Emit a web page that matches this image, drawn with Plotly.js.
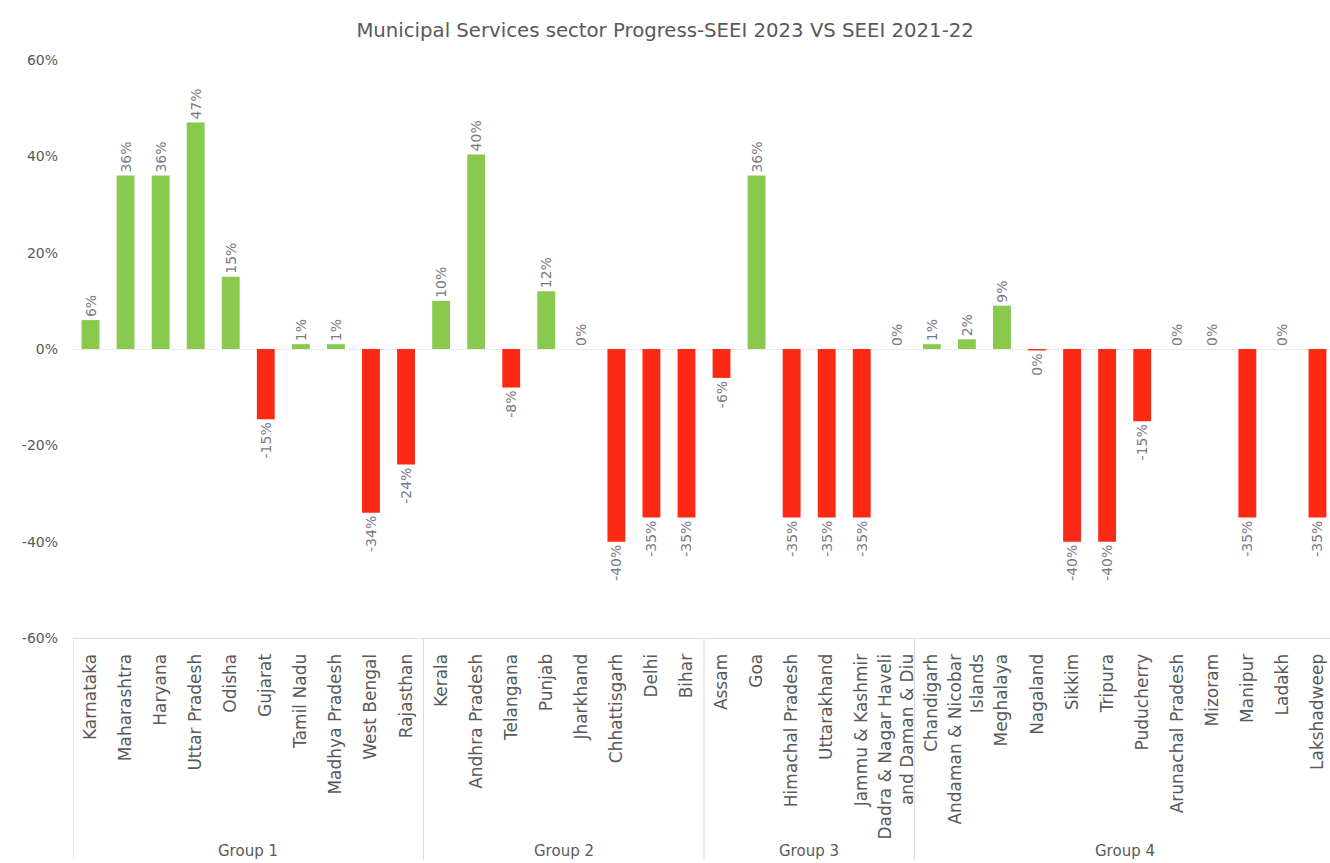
<!DOCTYPE html>
<html>
<head>
<meta charset="utf-8">
<script src="https://cdn.plot.ly/plotly-3.0.1.min.js"></script>
<style>
html, body { margin: 0; padding: 0; overflow: hidden; background: #fff; }
#chart { width: 1345px; height: 863px; }
</style>
</head>
<body>
<div id="chart"></div>
<script>
// ---- data ----
const groupNames = ['Group 1', 'Group 2', 'Group 3', 'Group 4'];
const groupSizes = [10, 8, 6, 12];
const states = [
  'Karnataka', 'Maharashtra', 'Haryana', 'Uttar Pradesh', 'Odisha', 'Gujarat', 'Tamil Nadu', 'Madhya Pradesh', 'West Bengal', 'Rajasthan',
  'Kerala', 'Andhra Pradesh', 'Telangana', 'Punjab', 'Jharkhand', 'Chhattisgarh', 'Delhi', 'Bihar',
  'Assam', 'Goa', 'Himachal Pradesh', 'Uttarakhand', 'Jammu & Kashmir', 'Dadra & Nagar Haveli<br>and Daman & Diu',
  'Chandigarh', 'Andaman & Nicobar<br>Islands', 'Meghalaya', 'Nagaland', 'Sikkim', 'Tripura', 'Puducherry', 'Arunachal Pradesh', 'Mizoram', 'Manipur', 'Ladakh', 'Lakshadweep'
];
const progress = [
  6, 36, 36, 47, 15, -14.6, 1, 1, -34, -24,
  10, 40.4, -8, 12, 0, -40, -35, -35,
  -6, 36, -35, -35, -35, 0,
  1, 2, 9, -0.3, -40, -40, -15, 0, 0, -35, 0, -35
];
const yTicks = [-60, -40, -20, 0, 20, 40, 60];

// ---- styles ----
const GREEN = '#88c94e';
const RED = '#fc2a14';
const FONT = 'DejaVu Sans, Liberation Sans, sans-serif';
const GREY = '#595959';

const idx = states.map((_, i) => i);
const labels = progress.map(v => Math.round(v) + '%');
const colors = progress.map(v => v >= 0 ? GREEN : RED);

const trace = {
  type: 'bar',
  x: idx,
  y: progress,
  marker: { color: colors },
  text: labels,
  textposition: 'outside',
  textangle: -90,
  constraintext: 'none',
  cliponaxis: false,
  textfont: { family: FONT, size: 14, color: '#7a7a86' },
  hoverinfo: 'skip'
};

// group dividers and labels
const shapes = [];
const annotations = [];
let start = 0;
shapes.push({ type: 'line', xref: 'x', yref: 'paper', x0: -0.5, x1: -0.5, y0: 0, y1: -0.385,
  line: { color: '#d9d9d9', width: 1 } });
groupSizes.forEach((n, g) => {
  const end = start + n;
  shapes.push({ type: 'line', xref: 'x', yref: 'paper', x0: end - 0.5, x1: end - 0.5, y0: 0, y1: -0.385,
    line: { color: '#d9d9d9', width: 1 } });
  annotations.push({ xref: 'x', yref: 'paper', x: start + (n - 1) / 2, y: -0.368,
    text: groupNames[g], showarrow: false, xanchor: 'center', yanchor: 'middle',
    font: { family: FONT, size: 15, color: GREY } });
  start = end;
});

const layout = {
  width: 1345,
  height: 863,
  margin: { l: 73, r: 10, t: 60, b: 225 },
  paper_bgcolor: '#ffffff',
  plot_bgcolor: '#ffffff',
  showlegend: false,
  bargap: 0.49,
  title: {
    text: 'Municipal Services sector Progress-SEEI 2023 VS SEEI 2021-22',
    x: 0.4945, xanchor: 'center', y: 0.965, yanchor: 'middle',
    font: { family: FONT, size: 19.7, color: GREY }
  },
  xaxis: {
    type: 'linear',
    range: [-0.5, states.length - 0.5],
    tickmode: 'array',
    tickvals: idx,
    ticktext: states,
    tickangle: -90,
    ticks: '',
    ticklabelstandoff: 8,
    showgrid: false,
    zeroline: false,
    showline: true,
    linecolor: '#d9d9d9',
    linewidth: 1,
    tickfont: { family: FONT, size: 17, color: GREY },
    automargin: false,
    fixedrange: true
  },
  yaxis: {
    range: [-60, 60],
    tickmode: 'array',
    tickvals: yTicks,
    ticktext: yTicks.map(v => v + '%'),
    showgrid: false,
    zeroline: true,
    zerolinecolor: '#ececec',
    zerolinewidth: 1,
    showline: false,
    ticks: '',
    ticklabelstandoff: 14,
    tickfont: { family: FONT, size: 14, color: GREY },
    automargin: false,
    fixedrange: true
  },
  shapes: shapes,
  annotations: annotations
};

Plotly.newPlot('chart', [trace], layout, { displayModeBar: false, staticPlot: true });
</script>
</body>
</html>
